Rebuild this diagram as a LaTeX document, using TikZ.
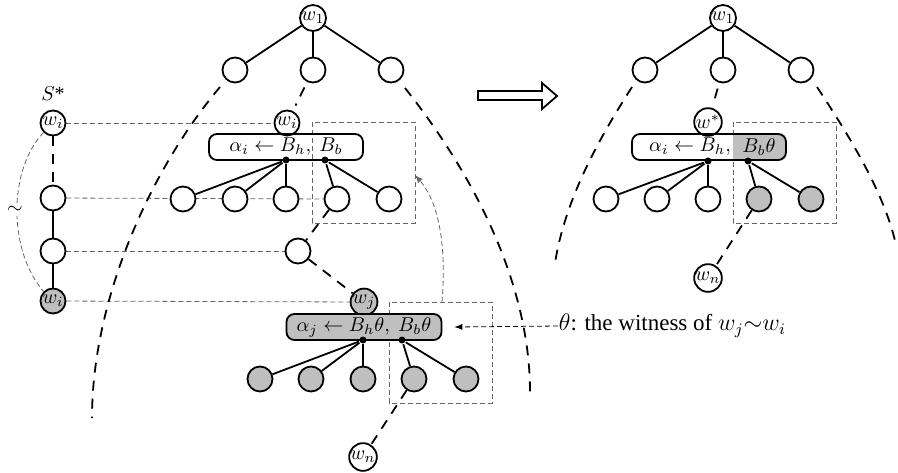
\documentclass[tikz,border=0pt]{standalone}
\usepackage{amsmath}
\usepackage{fontspec}
\setmainfont{Liberation Serif}
\usepackage{tikz}
\usetikzlibrary{positioning, backgrounds, calc}
\tikzset{knoten/.style={circle,draw,line width=0.9pt,fill=white,minimum size=12.5pt,inner sep=0pt},
	grauknoten/.style={knoten,fill=black!25},
	kasten/.style={rectangle,draw,line width=0.9pt,rounded corners=4pt,minimum width=77pt,minimum height=13pt,inner sep=0pt},
	punkt/.style={circle,fill,inner sep=0pt,minimum size=3.5pt},
	rand/.style={line width=0.9pt,dash pattern=on 5pt off 4pt},
	hilfe/.style={black!60,line width=0.4pt,dash pattern=on 2.5pt off 1.5pt},
	helper/.style={inner sep=0} }

\begin{document}
\begin{tikzpicture}
	[x=0.5pt, y=-0.5pt, line width=0.9pt, >=latex,
	 level 1/.style={sibling distance=39pt, level distance=26pt}]
	\useasboundingbox (0,0) rectangle (898,472);

	% linker Baum
	\node (w1) [knoten] at (313,18) {$w_1$}
		child { node (a1) [knoten] {} }
		child { node (a2) [knoten] {} }
		child { node (a3) [knoten] {} };

	\node (wi) [knoten] at (287,123) {$w_i$};
	\node (kA) [kasten] at (286,147) {$\alpha_i \leftarrow B_h,\ B_b$};
	\node (p1) [punkt] at (286,160) {};
	\node (p2) [punkt] at (325,160) {};
	\node (c1) [knoten] at (183,199) {};
	\node (c2) [knoten] at (235,199) {};
	\node (c3) [knoten] at (286,199) {};
	\node (c4) [knoten] at (337,199) {};
	\node (c5) [knoten] at (389,199) {};
	\draw (p1) -- (c1); \draw (p1) -- (c2); \draw (p1) -- (c3);
	\draw (p2) -- (c4); \draw (p2) -- (c5);

	\node (m) [knoten] at (298,251) {};
	\node (wj) [grauknoten] at (364,302) {$w_j$};
	\node (kB) [kasten, fill=black!25, minimum width=77.5pt] at (364,327) {$\alpha_j \leftarrow B_h\theta,\ B_b\theta$};
	\node (q1) [punkt] at (363,340) {};
	\node (q2) [punkt] at (402,340) {};
	\node (d1) [grauknoten] at (260,379) {};
	\node (d2) [grauknoten] at (311,379) {};
	\node (d3) [grauknoten] at (363,379) {};
	\node (d4) [grauknoten] at (414,379) {};
	\node (d5) [grauknoten] at (466,379) {};
	\draw (q1) -- (d1); \draw (q1) -- (d2); \draw (q1) -- (d3);
	\draw (q2) -- (d4); \draw (q2) -- (d5);
	\node (wn) [knoten] at (363,457) {$w_n$};

	\draw [rand, shorten <=3pt, shorten >=3pt] (a2) -- (wi);
	\draw [rand] (c4) -- (m);
	\draw [rand] (m) -- (wj);
	\draw [rand] (d4) -- (wn);

	% S*
	\node (s1) [knoten] at (53,123) {$w_i$};
	\node (sl) [above=1pt of s1] {$S$*};
	\node (s2) [knoten] at (53,198) {};
	\node (s3) [knoten] at (53,251) {};
	\node (s4) [grauknoten] at (53,301) {$w_i$};
	\draw [rand] (s1) -- (s2);
	\draw (s2) -- (s3);
	\draw (s3) -- (s4);
	\draw [hilfe] (s1.south west) .. controls (8,170) and (8,250) .. (s4.north west);
	\node (tilde) [fill=white, inner sep=1pt] at (15,210) {$\sim$};

	\begin{scope}[on background layer]
		\draw [hilfe] (s1) -- (wi);
		\draw [hilfe] (s2) -- (c4);
		\draw [hilfe] (s3) -- (m);
		\draw [hilfe] (s4) -- (wj);
		\draw [hilfe] (312,122) rectangle (415,223);
		\draw [hilfe] (389,302) rectangle (492,403);
	\end{scope}

	\draw [rand] (220,87) .. controls (150,170) and (92,300) .. (92,418);
	\draw [rand] (405,88) .. controls (470,170) and (530,280) .. (530,392);

	\coordinate (von) at (442,302);
	\coordinate (nach) at (415,175);
	\draw [hilfe, ->] (von) .. controls (447,240) and (437,200) .. (nach);

	\node (zeuge) [right, helper] at (558,326) {\fontsize{11.5}{14}\selectfont $\theta$: the witness of $w_j{\sim}w_i$};
	\draw [->, line width=0.4pt, dash pattern=on 2.5pt off 1.5pt] (zeuge.west) -- ($(kB.east)+(12,0)$);

	% Pfeil
	\draw (478,91) -- (542,91) -- (542,83) -- (557,96) -- (542,109) -- (542,100) -- (478,100) -- cycle;

	% rechter Baum
	\node (v1) [knoten] at (723,18) {$w_1$}
		child { node (b1) [knoten] {} }
		child { node (b2) [knoten] {} }
		child { node (b3) [knoten] {} };

	\node (ws) [knoten] at (708,122) {$w^*$};
	\node (kC) [kasten] at (709,147) {};
	\begin{scope}[on background layer]
		\draw [hilfe] (733,122) rectangle (836,223);
		\begin{scope}
			\clip (733,120) rectangle (800,175);
			\fill [black!25, rounded corners=4pt] (kC.north west) rectangle (kC.south east);
		\end{scope}
	\end{scope}
	\node [helper] at (690,147) {$\alpha_i \leftarrow B_h,$};
	\node [helper] at (759,147) {$B_b\theta$};
	\node (r1) [punkt] at (708,161) {};
	\node (r2) [punkt] at (748,161) {};
	\node (e1) [knoten] at (606,199) {};
	\node (e2) [knoten] at (657,199) {};
	\node (e3) [knoten] at (708,199) {};
	\node (e4) [grauknoten] at (759,199) {};
	\node (e5) [grauknoten] at (811,199) {};
	\draw (r1) -- (e1); \draw (r1) -- (e2); \draw (r1) -- (e3);
	\draw (r2) -- (e4); \draw (r2) -- (e5);
	\node (wn2) [knoten] at (708,278) {$w_n$};

	\draw [rand, shorten <=3pt, shorten >=3pt] (b2) -- (ws);
	\draw [rand] (e4) -- (wn2);

	\draw [rand] (632,87) .. controls (598,140) and (565,200) .. (555,263);
	\draw [rand] (817,87) .. controls (852,140) and (885,195) .. (896,245);
\end{tikzpicture}
\end{document}
